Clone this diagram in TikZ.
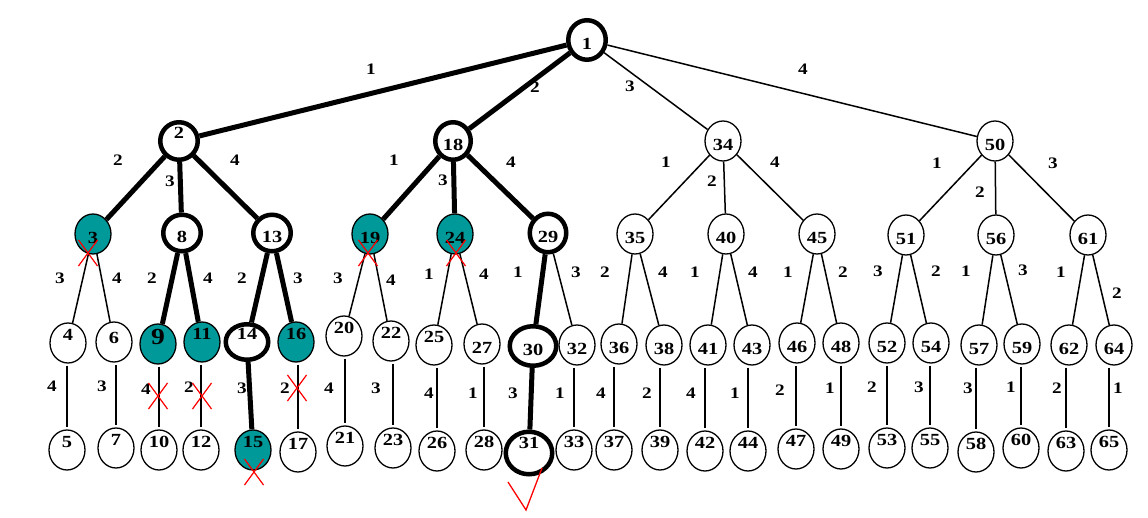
\documentclass[tikz,border=0pt]{standalone}
\usepackage{fontspec}
\setmainfont{Liberation Serif}[FakeStretch=1.2]
\usetikzlibrary{shapes.geometric,shapes.misc}
\definecolor{nodeteal}{RGB}{0,153,153}
% vertical placement of the numbers inside the vertices
\newcommand{\upnum}[1]{\raisebox{8pt}{#1}}
\newcommand{\dnnum}[1]{\raisebox{-4pt}{#1}}
\begin{document}
\begin{tikzpicture}[x=1pt,y=-1pt,
  vx/.style={ellipse, draw, line width=1.3pt, minimum width=36pt, minimum height=40pt,
    inner sep=0pt, text height=11pt, text depth=0pt, font=\bfseries\fontsize{17}{17}\selectfont},
  hot/.style={vx, line width=4.5pt, minimum width=37.5pt, minimum height=37.5pt},
  dead/.style={vx, fill=nodeteal},
  lab/.style={inner sep=0pt, font=\bfseries\fontsize{16}{16}\selectfont},
  wide/.style={line width=5pt},
  slim/.style={line width=1.5pt},
  mid/.style={line width=2.6pt},
  cut/.style={cross out, draw=red, line width=1.2pt, minimum width=18pt,
    minimum height=25pt, inner sep=0pt},
]
\fill[white] (0,0) rectangle (1148,518);
\useasboundingbox (0,0) rectangle (1148,518);

% root
\node[hot, minimum height=39.5pt] (n1) at (587,40) {\dnnum{1}};

% level 1
\node[hot] (n2)  at (179,141) {\upnum{2}};
\node[hot, minimum width=35.5pt] (n18) at (453,141) {\dnnum{18}};
\node[vx]  (n34) at (723,141) {\dnnum{34}};
\node[vx]  (n50) at (995,141) {\dnnum{50}};

% level 2
\node[dead] (n3)  at (93,234)  {\dnnum{3}};
\node[hot, minimum height=36.5pt] (n8)  at (182,233) {\dnnum{8}};
\node[hot, minimum height=36.5pt] (n13) at (272,233) {\dnnum{13}};
\node[dead] (n19) at (370,234) {\dnnum{19}};
\node[dead] (n24) at (455,234) {\dnnum{24}};
\node[hot, minimum width=36.5pt, minimum height=38.5pt] (n29) at (548,233) {\dnnum{29}};
\node[vx] (n35) at (635,234) {\dnnum{35}};
\node[vx] (n40) at (726,234) {\dnnum{40}};
\node[vx] (n45) at (817,234) {\dnnum{45}};
\node[vx] (n51) at (906,235) {\dnnum{51}};
\node[vx] (n56) at (996,235) {\dnnum{56}};
\node[vx] (n61) at (1088,235) {\dnnum{61}};

% level 3
\node[vx]   (n4)  at (68,343)  {\upnum{4}};
\node[vx]   (n6)  at (114,342) {\raisebox{4pt}{6}};
\node[dead] (n9)  at (158,344) {\raisebox{5pt}{\fontsize{23}{23}\selectfont 9}};
\node[dead] (n11) at (202,342) {\upnum{11}};
\node[hot, minimum width=42.5pt, minimum height=35.5pt] (n14) at (247,342) {\upnum{14}};
\node[dead] (n16) at (296,342) {\upnum{16}};
\node[vx] (n20) at (344,336) {\upnum{20}};
\node[vx] (n22) at (391,341) {\upnum{22}};
\node[vx] (n25) at (434,345) {\upnum{25}};
\node[vx] (n27) at (482,344) {\dnnum{27}};
\node[hot, minimum width=46.5pt, minimum height=39.5pt] (n30) at (533,346) {\dnnum{30}};
\node[vx] (n32) at (577,345) {\dnnum{32}};
\node[vx] (n36) at (619,344) {\dnnum{36}};
\node[vx] (n38) at (664,345) {\dnnum{38}};
\node[vx] (n41) at (708,345) {\dnnum{41}};
\node[vx] (n43) at (752,345) {\dnnum{43}};
\node[vx] (n46) at (797,343) {\dnnum{46}};
\node[vx] (n48) at (841,343) {\dnnum{48}};
\node[vx] (n52) at (887,343) {\dnnum{52}};
\node[vx] (n54) at (931,343) {\dnnum{54}};
\node[vx] (n57) at (979,345) {\dnnum{57}};
\node[vx] (n59) at (1022,344) {\dnnum{59}};
\node[vx] (n62) at (1069,345) {\dnnum{62}};
\node[vx] (n64) at (1114,345) {\dnnum{64}};

% level 4
\node[vx]   (n5)  at (67,450)  {\upnum{5}};
\node[vx]   (n7)  at (116,448) {\upnum{7}};
\node[vx]   (n10) at (159,450) {\upnum{10}};
\node[vx]   (n12) at (201,450) {\upnum{12}};
\node[dead] (n15) at (253,450) {\upnum{15}};
\node[vx]   (n17) at (298,452) {\upnum{17}};
\node[vx]   (n21) at (345,446) {\upnum{21}};
\node[vx]   (n23) at (393,448) {\upnum{23}};
\node[vx]   (n26) at (437,451) {\upnum{26}};
\node[vx]   (n28) at (484,450) {\upnum{28}};
\node[hot, minimum width=46.5pt, minimum height=42.5pt] (n31) at (529,453) {\raisebox{10pt}{31}};
\node[vx]   (n33) at (574,450) {\upnum{33}};
\node[vx]   (n37) at (614,450) {\upnum{37}};
\node[vx]   (n39) at (660,450) {\upnum{39}};
\node[vx]   (n42) at (705,451) {\upnum{42}};
\node[vx]   (n44) at (748,451) {\upnum{44}};
\node[vx]   (n47) at (796,449) {\upnum{47}};
\node[vx]   (n49) at (841,449) {\upnum{49}};
\node[vx]   (n53) at (887,448) {\upnum{53}};
\node[vx]   (n55) at (930,448) {\upnum{55}};
\node[vx]   (n58) at (976,452) {\upnum{58}};
\node[vx]   (n60) at (1021,448) {\upnum{60}};
\node[vx]   (n63) at (1066,451) {\upnum{63}};
\node[vx]   (n65) at (1109,450) {\upnum{65}};

% explored branches
\foreach \a/\b in {n1/n2, n1/n18, n2/n3, n2/n8, n2/n13, n18/n19, n18/n24, n18/n29,
                   n8/n9, n8/n11, n13/n14, n13/n16, n14/n15, n29/n30, n30/n31}
  \draw[wide] (\a) -- (\b);

% remaining branches
\foreach \a/\b in {n1/n34, n1/n50, n34/n35, n34/n40, n34/n45, n50/n51, n50/n56, n50/n61,
                   n3/n4, n3/n6, n19/n20, n19/n22, n24/n25, n24/n27, n29/n32,
                   n35/n36, n35/n38, n40/n41, n40/n43, n45/n46, n45/n48,
                   n51/n52, n51/n54, n56/n57, n56/n59, n61/n62, n61/n64}
  \draw[slim] (\a) -- (\b);

% last level: vertical branches
\foreach \a/\b in {n4/n5, n6/n7, n9/n10, n11/n12, n16/n17, n20/n21, n22/n23, n25/n26,
                   n27/n28, n32/n33, n36/n37, n38/n39, n43/n44, n46/n47, n48/n49,
                   n52/n53, n54/n55, n57/n58, n59/n60, n62/n63, n64/n65}
  \draw[slim, shorten <=2pt, shorten >=2pt] (\a.south -| \b) -- (\b.north);
\draw[mid, shorten <=2pt, shorten >=2pt] (n41.south -| n42) -- (n42.north);

% edge weights
\foreach \x/\y/\t [count=\i] in {
  371/69/1, 535/87/2, 630/86/3, 803/69/4,
  118/160/2, 170/181/3, 235/160/4,
  394/160/1, 443/180/3, 511/162/4,
  666/162/1, 712/181/2, 775/162/4,
  937/163/1, 980/192/2, 1053/163/3,
  60/278/3, 117/278/4, 152/278/2, 208/278/4, 242/278/2, 298/278/3,
  338/278/3, 391/280/4, 429/274/1, 484/274/4, 518/272/1, 576/272/3,
  605/272/2, 663/272/4, 695/272/1, 753/272/4, 788/272/1, 843/272/2,
  878/271/3, 936/271/2, 966/271/1, 1023/270/3, 1061/272/1, 1117/293/2,
  52/386/4, 102/386/3, 146/389/4, 189/387/2, 242/388/3, 285/388/2,
  329/388/4, 376/388/3, 429/393/4, 473/393/1, 513/393/3, 560/393/1,
  601/393/4, 647/393/2, 691/393/4, 735/393/1, 780/390/2, 830/388/1,
  872/387/2, 919/387/3, 968/388/3, 1011/387/1, 1057/388/2, 1118/388/1}
  \node[lab] (w\i) at (\x,\y) {\t};

% rejected vertices and branches
\node[cut] (x1) at (88,253)  {};
\node[cut] (x2) at (368,253) {};
\node[cut] (x3) at (456,253) {};
\node[cut] (x4) at (158,396) {};
\node[cut] (x5) at (202,396) {};
\node[cut] (x6) at (297,388) {};
\node[cut] (x7) at (254,472) {};

% accepted solution
\coordinate (t1) at (508,482);
\coordinate (t2) at (526,510);
\coordinate (t3) at (542,468);
\draw[red, line width=1.3pt] (t1) -- (t2) -- (t3);
\end{tikzpicture}
\end{document}
